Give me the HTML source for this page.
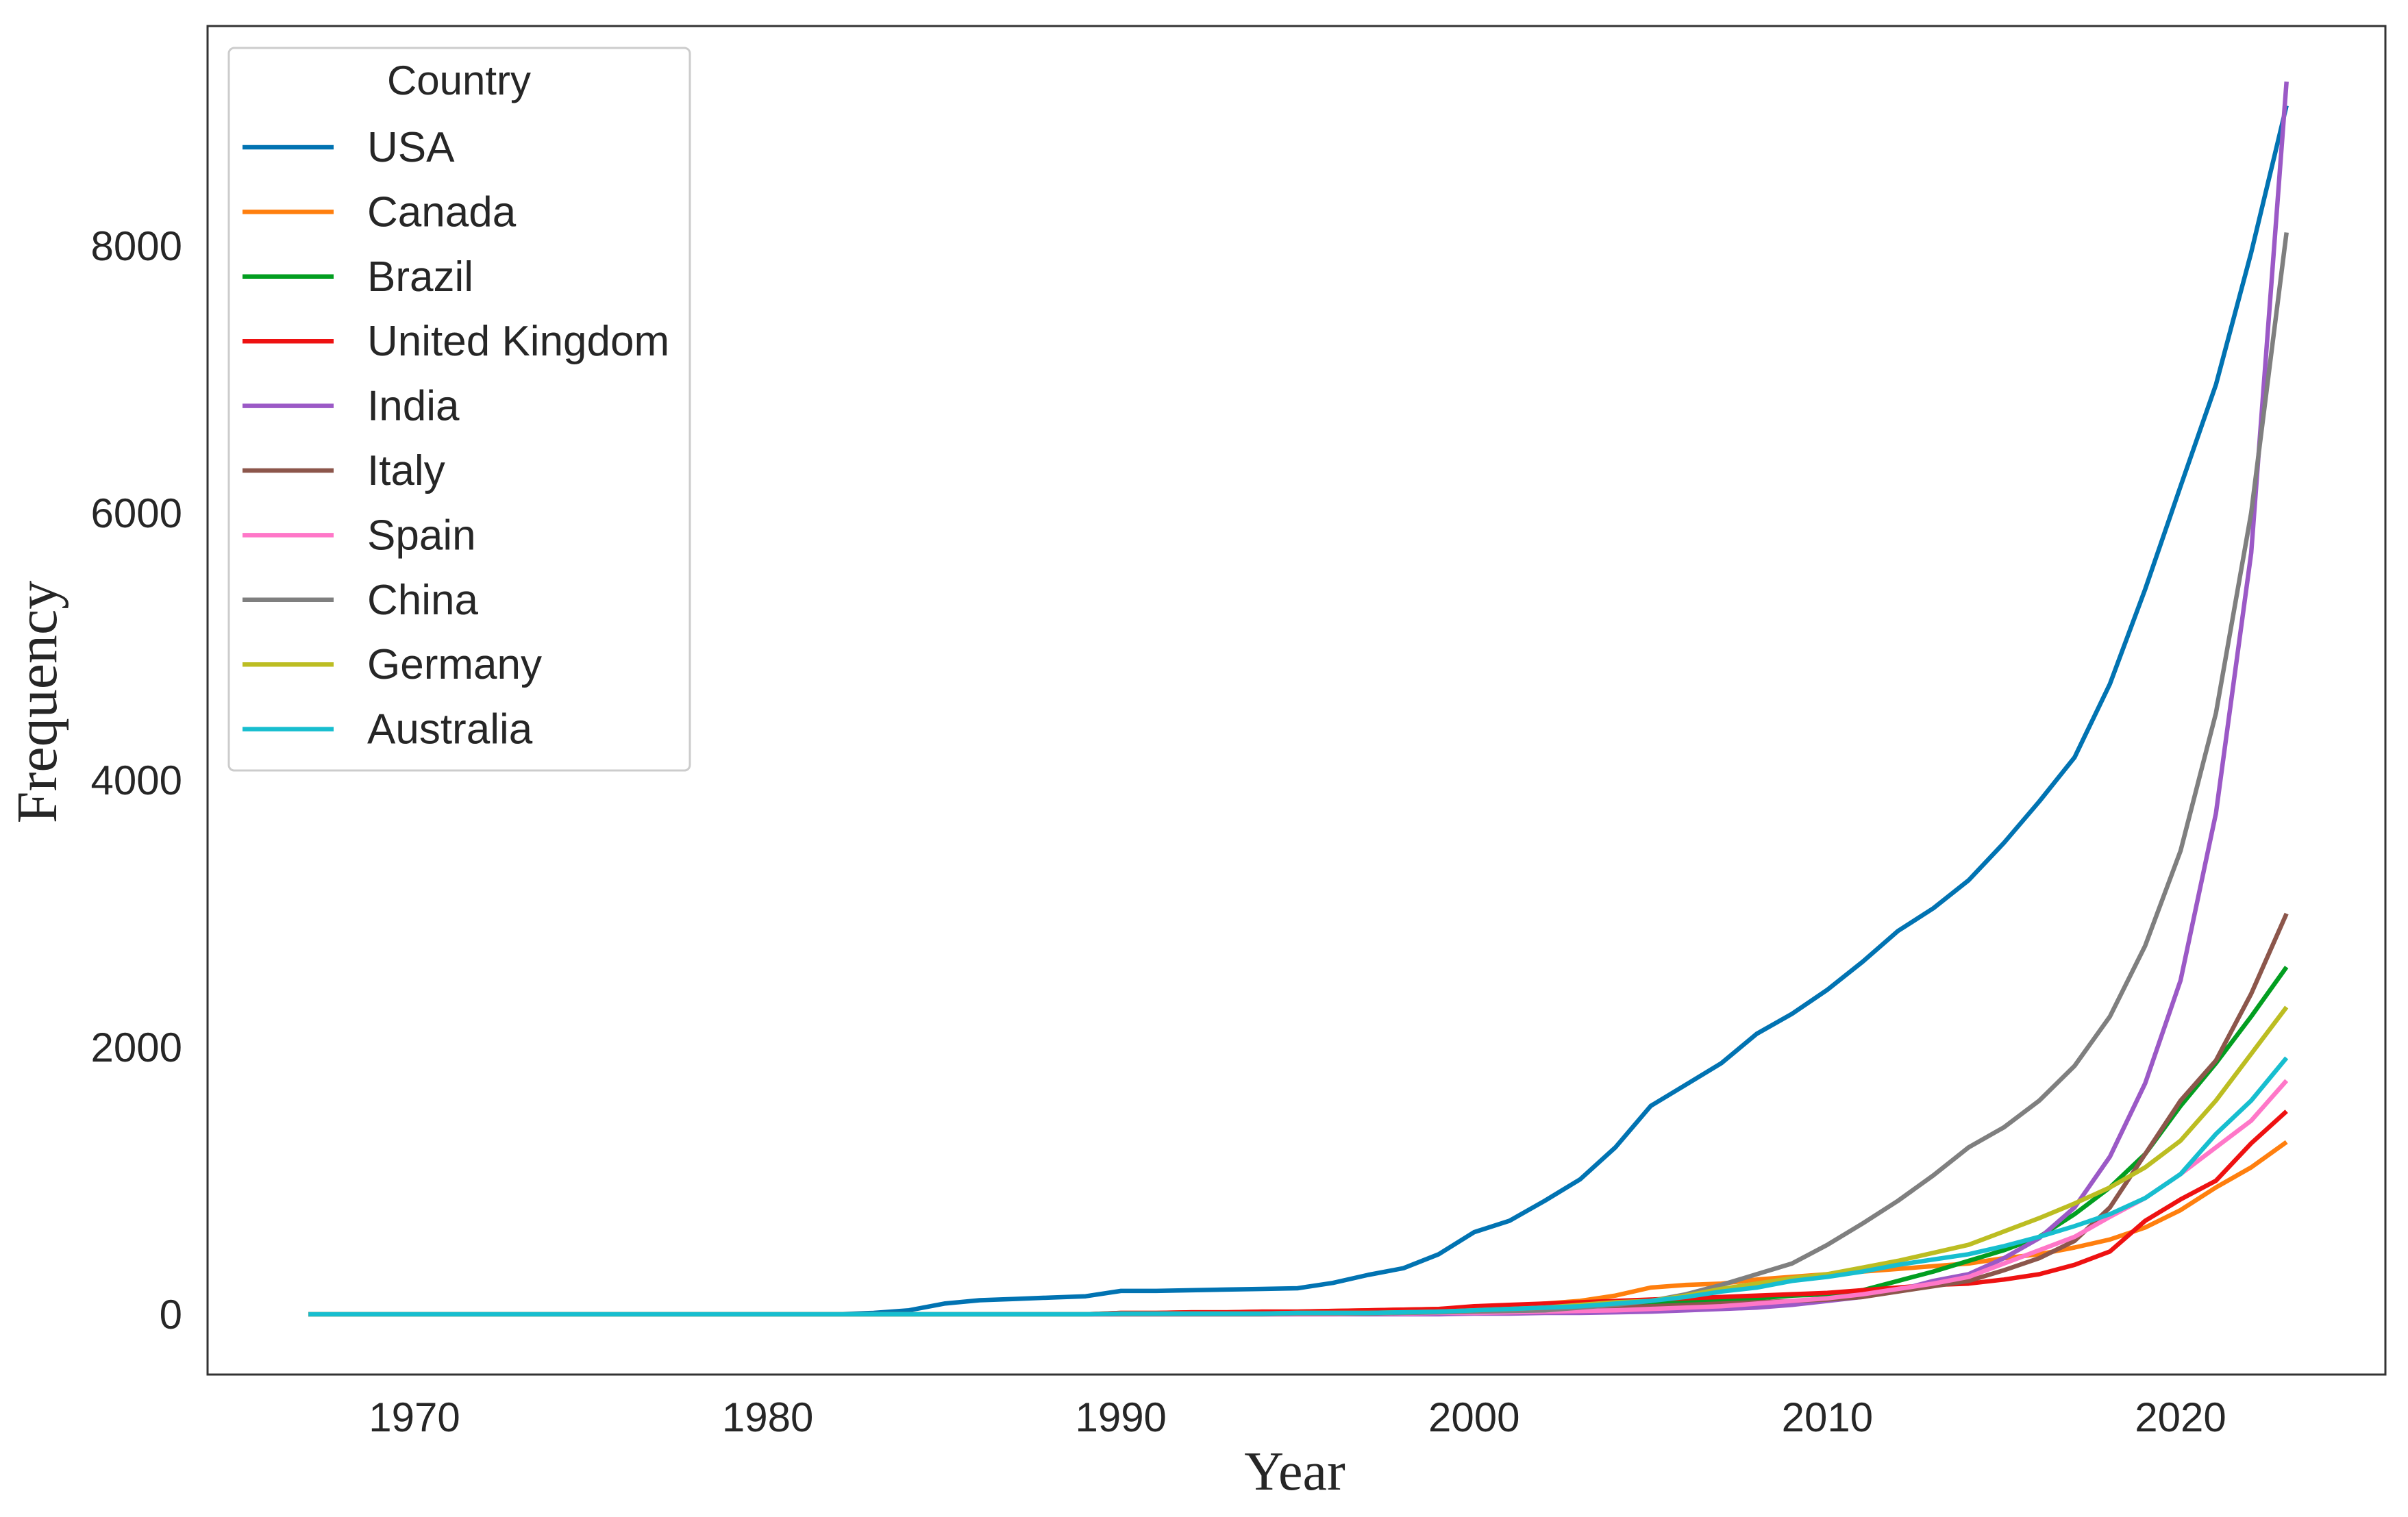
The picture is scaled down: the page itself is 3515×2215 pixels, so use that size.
<!DOCTYPE html>
<html><head><meta charset="utf-8"><style>
html,body{margin:0;padding:0;background:#fff;}
svg{display:block;}
text{font-family:"Liberation Sans",sans-serif;fill:#262626;}
</style></head><body>
<svg id="chart" width="3515" height="2215" viewBox="0 0 3515 2215" xmlns="http://www.w3.org/2000/svg">
<rect x="303" y="38" width="3179" height="1969" fill="#fff" stroke="#333" stroke-width="3"/>
<g id="ticks"></g>
<g id="lines"></g>
<text x="1890" y="2175" font-size="80" text-anchor="middle" style="font-family:'Liberation Serif',serif">Year</text>
<text transform="translate(82,1025) rotate(-90)" font-size="84" text-anchor="middle" style="font-family:'Liberation Serif',serif">Frequency</text>
<g id="legend">
<rect x="334" y="70" width="673" height="1055" rx="8" fill="#fff" stroke="#ccc" stroke-width="3"/>
<text x="670" y="138" font-size="60" text-anchor="middle">Country</text>
</g>
</svg>
<script>
const years = [];
for (let y = 1967; y <= 2023; y++) years.push(y);
const countries = ["USA","Canada","Brazil","United Kingdom","India","Italy","Spain","China","Germany","Australia"];
const colors = ["#0173b2","#ff7f0e","#029e20","#ee1111","#9b59c6","#8c564b","#ff77c8","#7f7f7f","#bcbd22","#17becf"];
const z16 = [0,0,0,0,0,0,0,0,0,0,0,0,0,0,0,0];
const z23 = [0,0,0,0,0,0,0,0,0,0,0,0,0,0,0,0,0,0,0,0,0,0,0];
const usa = z16.concat([10,30,80,105,115,125,135,175,175,180,185,190,195,235,295,345,450,615,700,850,1010,1250,1560,1720,1880,2100,2250,2430,2640,2870,3040,3250,3530,3840,4170,4720,5430,6200,6960,7950,9050]);
const canada = z23.concat([10,10,15,15,20,20,25,30,35,40,50,60,80,100,140,200,220,230,260,280,300,320,340,360,380,420,450,500,560,650,780,950,1100,1290]);
const brazil = z23.concat([5,5,5,5,5,10,10,10,15,20,25,30,40,50,60,80,90,110,120,140,150,180,250,320,400,480,580,750,950,1200,1560,1880,2230,2600]);
const uk = z23.concat([10,10,15,15,20,20,25,30,35,40,60,70,80,90,100,110,120,130,140,150,160,180,200,220,230,260,300,370,470,700,860,1000,1280,1520]);
const india = z23.concat([0,0,0,0,0,0,0,0,0,0,5,5,10,10,15,20,30,40,50,70,100,130,180,250,300,420,570,800,1180,1730,2500,3750,5700,9230]);
const italy = z23.concat([5,5,5,5,5,5,10,10,10,15,20,25,30,40,50,60,70,80,90,100,110,130,170,210,250,330,420,550,800,1200,1600,1900,2400,3000]);
const spain = z23.concat([0,0,0,0,0,0,0,5,5,10,10,15,20,25,30,40,50,60,80,100,120,150,190,230,280,380,480,580,730,870,1050,1250,1450,1750]);
const china = z23.concat([0,0,0,0,0,5,5,5,10,15,20,25,30,50,70,100,150,220,300,380,520,680,850,1040,1250,1400,1600,1860,2230,2760,3470,4500,6000,8100]);
const germany = z23.concat([5,5,5,5,5,10,10,10,15,20,30,40,50,70,90,100,140,190,230,270,300,350,400,460,520,620,720,830,950,1100,1300,1600,1950,2300]);
const australia = z23.concat([5,5,5,5,5,10,10,10,15,20,30,40,50,60,80,100,130,170,200,250,280,320,370,410,450,510,580,660,750,870,1050,1350,1600,1920]);
const series = [usa,canada,brazil,uk,india,italy,spain,china,germany,australia];
const xTicks = [1970,1980,1990,2000,2010,2020];
const yTicks = [0,2000,4000,6000,8000];

const NS = "http://www.w3.org/2000/svg";
function xScale(y){ return 605 + (y - 1970) * (3183 - 605) / 50; }
function yScale(v){ return 1919 - v * (1919 - 359) / 8000; }

const tg = document.getElementById("ticks");
xTicks.forEach(t => {
  const el = document.createElementNS(NS, "text");
  el.setAttribute("x", xScale(t)); el.setAttribute("y", 2090);
  el.setAttribute("font-size", "60"); el.setAttribute("text-anchor", "middle");
  
  
  el.textContent = t; tg.appendChild(el);
});
yTicks.forEach(t => {
  const el = document.createElementNS(NS, "text");
  el.setAttribute("x", 266); el.setAttribute("y", yScale(t) + 21);
  el.setAttribute("font-size", "60"); el.setAttribute("text-anchor", "end");
  
  
  el.textContent = t; tg.appendChild(el);
});

const lg = document.getElementById("lines");
const leg = document.getElementById("legend");
series.forEach((vals, i) => {
  const pts = vals.map((v, k) => xScale(years[k]).toFixed(1) + "," + yScale(v).toFixed(1)).join(" ");
  const pl = document.createElementNS(NS, "polyline");
  pl.setAttribute("points", pts); pl.setAttribute("fill", "none");
  pl.setAttribute("stroke", colors[i]); pl.setAttribute("stroke-width", "6.5");
  pl.setAttribute("stroke-linejoin", "round");
  
  
  lg.appendChild(pl);
  const ly = 215 + i * 94.4;
  const ln = document.createElementNS(NS, "line");
  ln.setAttribute("x1", 354); ln.setAttribute("x2", 487);
  ln.setAttribute("y1", ly); ln.setAttribute("y2", ly);
  ln.setAttribute("stroke", colors[i]); ln.setAttribute("stroke-width", "6.5");
  
  
  leg.appendChild(ln);
  const tx = document.createElementNS(NS, "text");
  tx.setAttribute("x", 536); tx.setAttribute("y", ly + 21);
  tx.setAttribute("font-size", "62");
  
  
  tx.textContent = countries[i];
  leg.appendChild(tx);
});
</script>
</body></html>
